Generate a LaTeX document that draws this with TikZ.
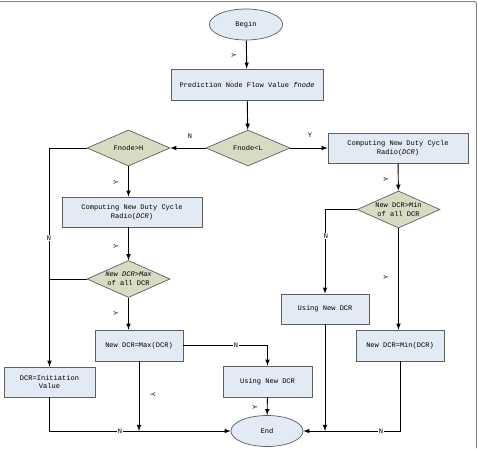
\documentclass[tikz,border=0pt]{standalone}
\usepackage{fontspec}
\setmonofont{Liberation Mono}
\usetikzlibrary{shapes.geometric}
\definecolor{boxfill}{RGB}{226,234,246}
\definecolor{diafill}{RGB}{214,219,194}
\definecolor{edgegray}{RGB}{95,95,95}
\begin{document}
\begin{tikzpicture}[
			x=0.03cm, y=-0.03cm,
			>=latex,
			every node/.style={font=\ttfamily\fontsize{6}{7.4}\selectfont, align=center},
			box/.style={rectangle, draw=edgegray, line width=0.6pt, fill=boxfill, inner sep=1pt},
			oval/.style={ellipse, draw=edgegray, line width=0.6pt, fill=boxfill, minimum width=2.2cm, minimum height=0.93cm},
			decision/.style={diamond, draw=edgegray, line width=0.6pt, fill=diafill, inner sep=0pt, aspect=2.3},
			flow/.style={->, line width=0.8pt},
			ylbl/.style={rotate=90, inner sep=0.5pt},
			nlbl/.style={fill=white, inner sep=0.4pt}
		]
			\useasboundingbox (0,0) rectangle (478,448);
			\draw[gray, line width=0.8pt, rounded corners=2] (0,1.5) -- (476.5,1.5) -- (476.5,448);

			\node[oval] (begin) at (246,24.5) {Begin};
			\node[box, minimum width=4.56cm, minimum height=0.93cm] (pred) at (247,84.5) {Prediction Node Flow Value \textit{fnode}};
			\node[decision, minimum width=2.52cm, minimum height=1.08cm] (fl) at (248,148) {Fnode<L};
			\node[decision, minimum width=2.49cm, minimum height=1.08cm] (fh) at (128.5,148) {Fnode>H};
			\node[box, minimum width=4.2cm, minimum height=0.9cm] (compR) at (398,148) {Computing New Duty Cycle\\Radio(\textit{DCR})};
			\node[box, minimum width=4.2cm, minimum height=0.9cm] (compL) at (132,212) {Computing New Duty Cycle\\Radio(\textit{DCR})};
			\node[decision, minimum width=2.49cm, minimum height=1.11cm] (minD) at (398.5,209.5) {New DCR>Min\\of all DCR};
			\node[decision, minimum width=2.49cm, minimum height=1.11cm] (maxD) at (128.5,279) {\textit{New DCR>Max}\\of all DCR};
			\node[box, minimum width=2.64cm, minimum height=0.9cm] (useR) at (325,309) {Using New DCR};
			\node[box, minimum width=2.64cm, minimum height=0.93cm] (minB) at (400,345.5) {New DCR=Min(DCR)};
			\node[box, minimum width=2.64cm, minimum height=0.93cm] (maxB) at (139,345.5) {New DCR=Max(DCR)};
			\node[box, minimum width=2.67cm, minimum height=0.93cm] (useL) at (267.5,381.5) {Using New DCR};
			\node[box, minimum width=2.73cm, minimum height=0.9cm] (init) at (49.5,382) {DCR=Initiation\\Value};
			\node[oval, minimum width=2.16cm] (end) at (267,431) {End};

			\draw[flow] (begin) -- (pred);
			\draw[flow] (pred) -- (fl);
			\draw[flow] (fl.west) -- (fh.east);
			\draw[flow] (fl.east) -- (compR.west);
			\draw[flow] (compR) -- (minD);
			\draw[flow] (minD.west) -| (useR.north);
			\draw[flow] (minD.south) -- (minD.south |- minB.north);
			\draw[flow] (minB.south) |- (end.east);
			\draw[flow] (useR.south) -- (useR.south |- end.east);
			\draw[flow] (fh.south) -- (fh.south |- compL.north);
			\draw[flow] (fh.south |- compL.south) -- (maxD.north);
			\draw[flow] (maxD.south) -- (maxD.south |- maxB.north);
			\draw[flow] (maxB.east) -| (useL.north);
			\draw[flow] (useL) -- (end);
			\draw[flow] (maxB.south) -- (maxB.south |- end.west);
			\draw[flow] (init.south) |- (end.west);
			\draw[flow] (fh.west) -| (init.north);
			\draw[line width=0.8pt] (maxD.west) -- (maxD.west -| init.north);

			% branch labels
			\node[ylbl] (y1) at (234,55) {Y};
			\node[inner sep=0.5pt] (n1) at (190,136) {N};
			\node[inner sep=0.5pt] (y2) at (310,135) {Y};
			\node[ylbl] (y3) at (386,179) {Y};
			\node[nlbl] (n2) at (326,236) {N};
			\node[ylbl] (y4) at (386,277) {Y};
			\node[ylbl] (y5) at (116,182) {Y};
			\node[ylbl] (y6) at (116,246) {Y};
			\node[ylbl] (y7) at (116,313) {Y};
			\node[nlbl] (n3) at (49,238) {N};
			\node[nlbl] (n4) at (236,345.5) {N};
			\node[ylbl, rotate=180] (y8) at (153,395) {Y};
			\node[ylbl] (y9) at (255,407) {Y};
			\node[nlbl] (n5) at (120,431) {N};
			\node[nlbl] (n6) at (381,431) {N};
		\end{tikzpicture}
\end{document}
